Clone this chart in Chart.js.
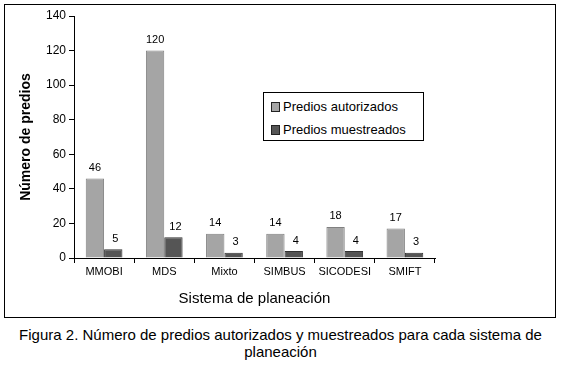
<!DOCTYPE html>
<html>
<head>
<meta charset="utf-8">
<script src="https://cdn.jsdelivr.net/npm/chart.js@4/dist/chart.umd.min.js"></script>
<style>
  body { margin: 0; background: #fff; font-family: "Liberation Sans", Arial, sans-serif; }
  #wrap { position: relative; width: 561px; height: 369px; }
  #frame { position: absolute; left: 4px; top: 4px; width: 550px; height: 312px; border: 1.5px solid #000; }
  #cv { position: absolute; left: 0; top: 0; }
  #legend { position: absolute; left: 263px; top: 92px; width: 161px; height: 49px; border: 1px solid #000; background: #fff;
            font-size: 13px; color: #000; box-sizing: border-box; padding: 4px 0 0 7px; }
  #legend div { height: 23px; line-height: 20px; white-space: nowrap; }
  #legend span { display: inline-block; width: 7px; height: 8px; border: 1px solid #222; margin-right: 3px; vertical-align: -1px; }
  #caption { position: absolute; left: 5px; top: 326px; width: 551px; text-align: center; font-size: 15px; line-height: 17px; color: #000; }
</style>
</head>
<body>
<div id="wrap">
  <div id="frame"></div>
  <canvas id="cv" width="561" height="320"></canvas>
  <div id="legend"></div>
  <div id="caption">Figura 2. Número de predios autorizados y muestreados para cada sistema de planeación</div>
</div>
<script>
var categorias = ['MMOBI', 'MDS', 'Mixto', 'SIMBUS', 'SICODESI', 'SMIFT'];
var autorizados = [46, 120, 14, 14, 18, 17];
var muestreados = [5, 12, 3, 4, 4, 3];
var series = ['Predios autorizados', 'Predios muestreados'];
var colores = ['#a5a5a5', '#555555'];
var bordes = ['#808080', '#333333'];

// etiquetas de valor encima de cada barra
var etiquetas = {
  id: 'etiquetas',
  afterDatasetsDraw: function(chart) {
    var ctx = chart.ctx;
    ctx.save();
    ctx.font = '11px "Liberation Sans", Arial, sans-serif';
    ctx.fillStyle = '#000';
    ctx.textAlign = 'center';
    ctx.textBaseline = 'bottom';
    chart.data.datasets.forEach(function(ds, i) {
      chart.getDatasetMeta(i).data.forEach(function(bar, j) {
        ctx.fillText(ds.data[j], bar.x + (i == 0 ? 0 : 2), bar.y - 5);
      });
    });
    ctx.restore();
  }
};

var ctx = document.getElementById('cv').getContext('2d');
var chart = new Chart(ctx, {
  type: 'bar',
  data: {
    labels: categorias,
    datasets: [{
      label: series[0],
      data: autorizados,
      backgroundColor: colores[0],
      borderColor: bordes[0],
      borderWidth: 1
    }, {
      label: series[1],
      data: muestreados,
      backgroundColor: colores[1],
      borderColor: bordes[1],
      borderWidth: 1
    }]
  },
  options: {
    responsive: false,
    animation: false,
    layout: { padding: { left: 18, right: 126, top: 16, bottom: 0 } },
    datasets: { bar: { categoryPercentage: 0.61, barPercentage: 1 } },
    plugins: { legend: { display: false }, tooltip: { enabled: false } },
    scales: {
      x: {
        grid: { drawOnChartArea: false, tickLength: 5, color: '#000' },
        border: { color: '#000', width: 1 },
        ticks: { color: '#000', font: { size: 11, family: '"Liberation Sans", Arial' }, padding: 2, maxRotation: 0 },
        title: { display: true, text: 'Sistema de planeación', color: '#000',
                 font: { size: 15, family: '"Liberation Sans", Arial' }, padding: { top: 6, bottom: 12 } },
        afterFit: function(s) { s.height = 62; }
      },
      y: {
        min: 0, max: 140,
        grid: { drawOnChartArea: false, tickLength: 5, color: '#000' },
        border: { color: '#000', width: 1 },
        ticks: { stepSize: 20, color: '#000', font: { size: 12, family: '"Liberation Sans", Arial' }, padding: 3 },
        title: { display: true, text: 'Número de predios', color: '#000',
                 font: { size: 14, weight: 'bold', family: '"Liberation Sans", Arial' }, padding: 0 },
        afterFit: function(s) { s.width = 56; }
      }
    }
  },
  plugins: [etiquetas]
});

var leg = document.getElementById('legend');
series.forEach(function(s, i) {
  var d = document.createElement('div');
  d.innerHTML = '<span style="background:' + colores[i] + '"></span>' + s;
  leg.appendChild(d);
});
</script>
</body>
</html>
